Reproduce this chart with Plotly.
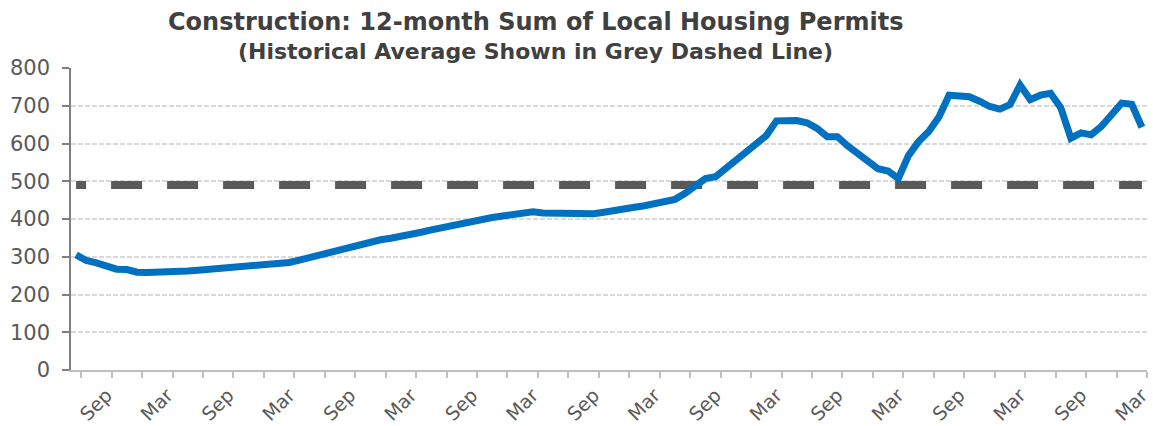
import pandas as pd
import plotly.graph_objects as go

# ---- data ----
start_month = "2015-06-01"
permits_12m = [
    305, 290, 284, 275, 267, 266, 259, 258, 258, 258,
    259, 262, 264, 266, 268, 270, 272, 274, 276, 279,
    283, 285, 291, 298, 306, 314, 321, 325, 333, 340,
    345, 349, 353, 357, 365, 371, 377, 383, 389, 394,
    398, 404, 408, 412, 416, 419, 416, 416, 413, 412,
    412, 414, 418, 421, 424, 431, 435, 440, 445, 452,
    468, 487, 507, 512, 533, 555, 578, 601, 621, 660,
    662, 661, 655, 640, 618, 618, 594, 575, 557, 533,
    527, 507, 568, 605, 632, 670, 728, 725, 724, 712,
    698, 691, 703, 755, 716, 728, 733, 695, 614, 628,
    623, 645, 678, 707, 704, 643,
]
historical_avg = 490
label_months = ["Sep", "Mar"]
title_line1 = "Construction: 12-month Sum of Local Housing Permits"
title_line2 = "(Historical Average Shown in Grey Dashed Line)"

months = pd.date_range(start_month, periods=len(permits_12m), freq="MS")
month_names = [m.strftime("%b") for m in months]
idx = list(range(len(permits_12m)))
tickvals = [i for i, m in zip(idx, month_names) if m in label_months]
ticktext = [month_names[i] for i in tickvals]

FONT = "DejaVu Sans"
TXT = "#595959"

# long-dash pattern (phase-shifted start)
avg_dash = "10px,25px," + ",".join(["31px,25px"] * 22)

fig = go.Figure()
fig.add_trace(go.Scatter(
    x=idx, y=[historical_avg] * len(idx), mode="lines",
    line=dict(color="#595959", width=8, dash=avg_dash),
    hoverinfo="skip", showlegend=False,
))
fig.add_trace(go.Scatter(
    x=idx, y=permits_12m, mode="lines",
    line=dict(color="#0070C0", width=7),
    showlegend=False,
))

PLOT_L, PLOT_T, PLOT_W, PLOT_H = 71, 68, 1081, 302
cx = (538 - PLOT_L) / PLOT_W
fig.update_layout(
    width=1153, height=426,
    margin=dict(l=PLOT_L, r=1153 - PLOT_L - PLOT_W, t=PLOT_T, b=426 - PLOT_T - PLOT_H),
    paper_bgcolor="white", plot_bgcolor="white",
    font=dict(family=FONT, color=TXT),
    annotations=[
        dict(text=f"<b>{title_line1}</b>", xref="paper", yref="paper",
             x=cx, y=1 + (PLOT_T - 22) / PLOT_H, xanchor="center", yanchor="middle",
             showarrow=False, font=dict(family=FONT, size=24, color="#404040")),
        dict(text=f"<b>{title_line2}</b>", xref="paper", yref="paper",
             x=cx, y=1 + (PLOT_T - 51) / PLOT_H, xanchor="center", yanchor="middle",
             showarrow=False, font=dict(family=FONT, size=22, color="#404040")),
    ],
)

fig.update_xaxes(
    range=[-0.5, len(idx) - 0.5],
    tickmode="array", tickvals=tickvals, ticktext=ticktext,
    tickangle=-45, tickfont=dict(size=19, color=TXT, family=FONT),
    ticklabeloverflow="allow",
    ticks="outside", ticklen=5, tickcolor="rgba(0,0,0,0)",
    showgrid=False, zeroline=False,
    showline=True, linecolor="#bfbfbf", linewidth=1.5,
    minor=dict(tickmode="linear", tick0=0.5, dtick=3, ticks="outside",
               ticklen=6, tickcolor="#bfbfbf", tickwidth=1.5, showgrid=False),
)
fig.update_yaxes(
    range=[0, 800], dtick=100,
    tickfont=dict(size=21, color=TXT, family=FONT),
    ticks="outside", ticklen=7, tickcolor="#7f7f7f", tickwidth=1.5,
    ticklabelstandoff=8,
    showgrid=True, gridcolor="#d9d9d9", gridwidth=1.5, griddash="5px,2px",
    zeroline=False,
    showline=True, linecolor="#7f7f7f", linewidth=1.5,
)

fig.write_html("out.html")
